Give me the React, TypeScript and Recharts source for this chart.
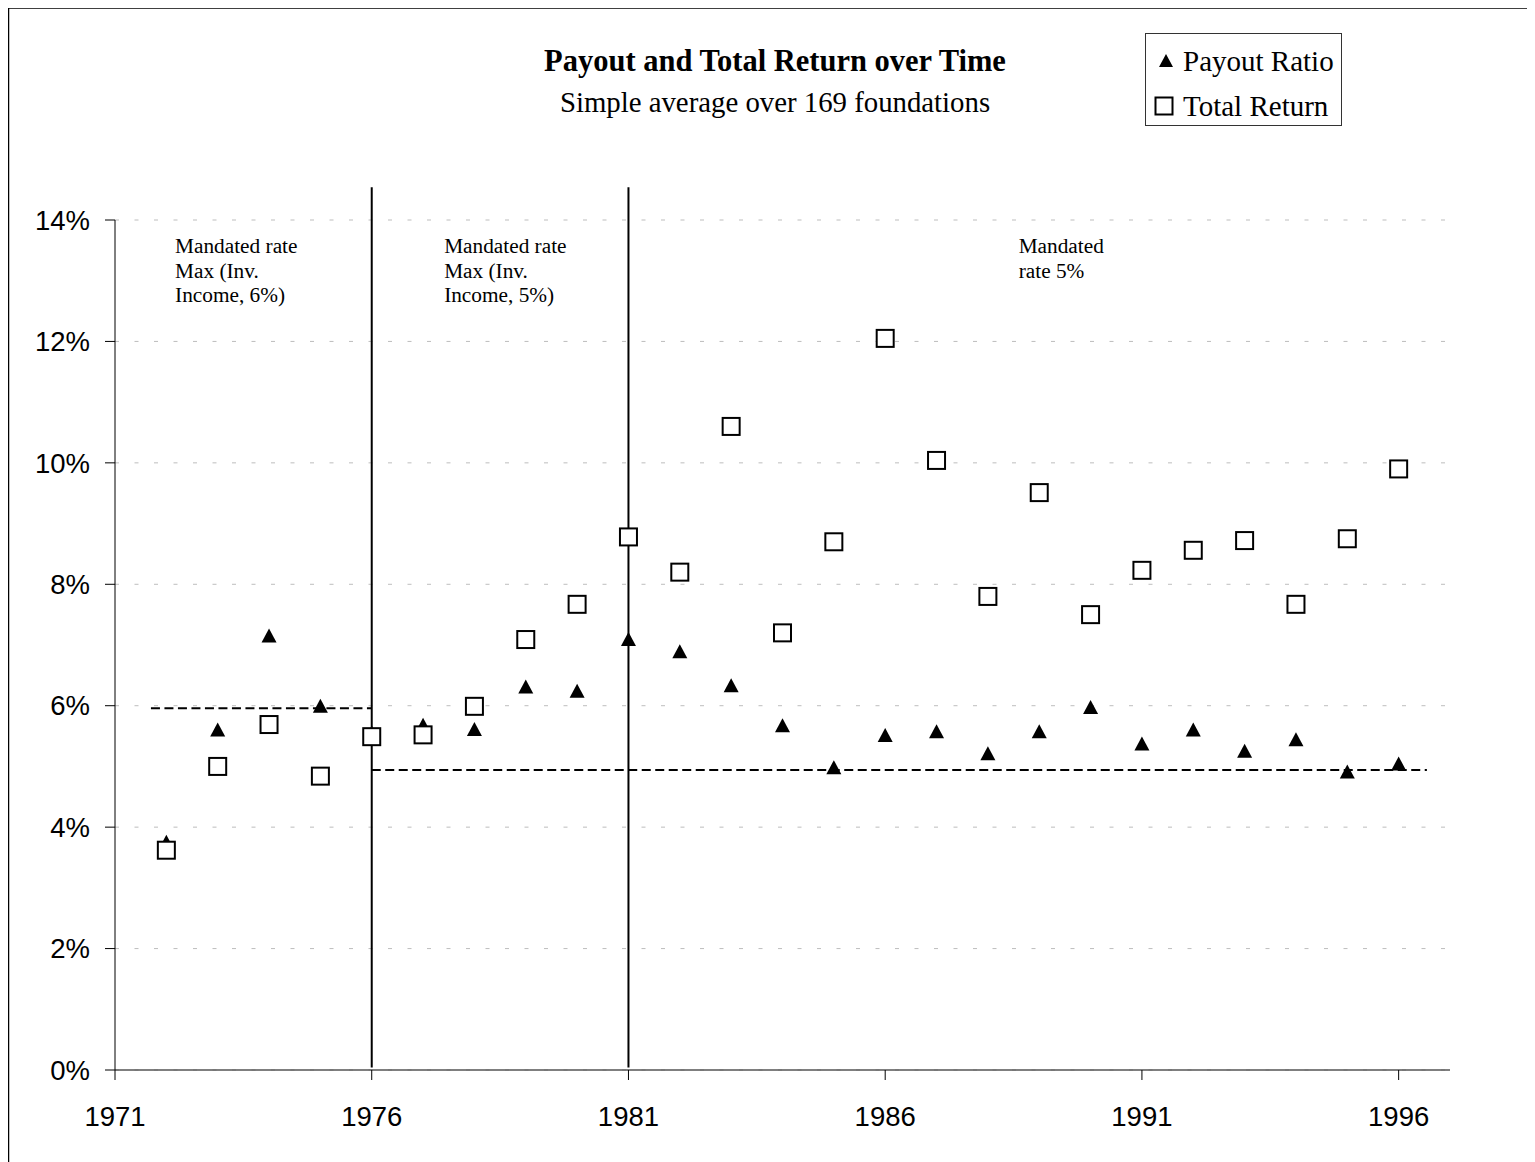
import React from 'react';
import {
  ScatterChart,
  Scatter,
  XAxis,
  YAxis,
  CartesianGrid,
  ReferenceLine,
  ReferenceDot,
  Legend,
} from 'recharts';

// ---- data ----
const years = [
  1972, 1973, 1974, 1975, 1976, 1977, 1978, 1979, 1980, 1981, 1982, 1983, 1984,
  1985, 1986, 1987, 1988, 1989, 1990, 1991, 1992, 1993, 1994, 1995, 1996,
];
const payoutRatio = [
  3.75, 5.6, 7.15, 5.99, 5.55, 5.68, 5.61, 6.31, 6.24, 7.09, 6.89, 6.33, 5.67,
  4.98, 5.51, 5.57, 5.21, 5.57, 5.97, 5.37, 5.6, 5.25, 5.44, 4.91, 5.04,
];
const totalReturn = [
  3.62, 5.0, 5.69, 4.84, 5.49, 5.52, 5.99, 7.09, 7.67, 8.78, 8.2, 10.6, 7.2,
  8.7, 12.05, 10.04, 7.8, 9.51, 7.5, 8.23, 8.56, 8.72, 7.67, 8.75, 9.9,
];
const xTicks = [1971, 1976, 1981, 1986, 1991, 1996];
const yTicks = [0, 2, 4, 6, 8, 10, 12, 14];
const regimeBoundaries = [1976, 1981];
const mandatedSegments = [
  { from: 1971.7, to: 1976, rate: 5.96 },
  { from: 1976, to: 1996.55, rate: 4.94 },
];
const annotations = [
  { x: 1972.17, y: 13.45, lines: ['Mandated rate', 'Max (Inv.', 'Income, 6%)'] },
  { x: 1977.41, y: 13.45, lines: ['Mandated rate', 'Max (Inv.', 'Income, 5%)'] },
  { x: 1988.6, y: 13.45, lines: ['Mandated', 'rate 5%'] },
];
const titleText = 'Payout and Total Return over Time';
const subtitleText = 'Simple average over 169 foundations';
const legendLabels = ['Payout Ratio', 'Total Return'];

const payoutData = years.map((x, i) => ({ x, y: payoutRatio[i] }));
const returnData = years.map((x, i) => ({ x, y: totalReturn[i] }));

const SERIF = "'Liberation Serif', 'Times New Roman', Times, serif";
const SANS = "'Liberation Sans', Arial, Helvetica, sans-serif";

const Triangle = (props: any) => {
  const { cx, cy } = props;
  if (cx == null || cy == null) return null;
  return (
    <polygon
      points={`${cx},${cy - 7.5} ${cx - 7.5},${cy + 6.5} ${cx + 7.5},${cy + 6.5}`}
      fill="#000"
    />
  );
};

const Square = (props: any) => {
  const { cx, cy } = props;
  if (cx == null || cy == null) return null;
  return (
    <rect
      x={cx - 8.5}
      y={cy - 8.5}
      width={17}
      height={17}
      fill="#fff"
      stroke="#000"
      strokeWidth={2}
    />
  );
};

const makeAnnotation = (lines: string[]) => (props: any) => {
  const { cx, cy } = props;
  return (
    <text x={cx} y={cy} fontFamily={SERIF} fontSize={21.3} fill="#000">
      {lines.map((l, i) => (
        <tspan key={i} x={cx} dy={i === 0 ? 0 : 24.5}>
          {l}
        </tspan>
      ))}
    </text>
  );
};

const LegendBox = () => (
  <svg width={197} height={93} style={{ display: 'block' }}>
    <rect x={0.5} y={0.5} width={196} height={92} fill="#fff" stroke="#333" strokeWidth={1} />
    <polygon points="21,21 14,34 28,34" fill="#000" />
    <text x={38} y={38} fontFamily={SERIF} fontSize={29} fill="#000">
      {legendLabels[0]}
    </text>
    <rect x={10.5} y={64.5} width={17} height={17} fill="#fff" stroke="#000" strokeWidth={2} />
    <text x={38} y={83} fontFamily={SERIF} fontSize={29} fill="#000">
      {legendLabels[1]}
    </text>
  </svg>
);

export default function App() {
  const W = 1527;
  const H = 1154;
  return (
    <div style={{ position: 'relative', width: W, height: H }}>
      <ScatterChart
        width={W}
        height={H}
        margin={{ top: 212, right: 85, bottom: 22, left: 7 }}
        style={{ position: 'absolute', left: 0, top: 0 }}
      >
        <CartesianGrid
          vertical={false}
          stroke="#bdbdbd"
          strokeDasharray="4 15.5"
          horizontalValues={yTicks}
        />
        <XAxis
          type="number"
          dataKey="x"
          domain={[1971, 1997]}
          ticks={xTicks}
          interval={0}
          allowDataOverflow
          height={70}
          tickSize={10}
          tickMargin={26}
          axisLine={{ stroke: '#555', strokeWidth: 1.5 }}
          tickLine={{ stroke: '#000', strokeWidth: 1 }}
          tick={{ fill: '#000', fontSize: 27.5, fontFamily: SANS }}
        />
        <YAxis
          type="number"
          dataKey="y"
          domain={[0, 14]}
          ticks={yTicks}
          interval={0}
          allowDataOverflow
          width={100}
          tickSize={10}
          tickMargin={15}
          tickFormatter={(v: number) => `${v}%`}
          axisLine={{ stroke: '#000', strokeWidth: 1 }}
          tickLine={{ stroke: '#000', strokeWidth: 1 }}
          tick={{ fill: '#000', fontSize: 27.5, fontFamily: SANS }}
        />
        {regimeBoundaries.map((b) => (
          <ReferenceLine
            key={`v${b}`}
            segment={[
              { x: b, y: 0.04 },
              { x: b, y: 14.54 },
            ]}
            ifOverflow="visible"
            stroke="#000"
            strokeWidth={2}
          />
        ))}
        {mandatedSegments.map((s, i) => (
          <ReferenceLine
            key={`m${i}`}
            segment={[
              { x: s.from, y: s.rate },
              { x: s.to, y: s.rate },
            ]}
            ifOverflow="visible"
            stroke="#000"
            strokeWidth={2}
            strokeDasharray="9 4.5"
          />
        ))}
        {annotations.map((a, i) => (
          <ReferenceDot
            key={`a${i}`}
            x={a.x}
            y={a.y}
            r={0}
            ifOverflow="visible"
            shape={makeAnnotation(a.lines)}
          />
        ))}
        <Scatter
          name={legendLabels[0]}
          data={payoutData}
          dataKey="y"
          shape={Triangle}
          isAnimationActive={false}
        />
        <Scatter
          name={legendLabels[1]}
          data={returnData}
          dataKey="y"
          shape={Square}
          isAnimationActive={false}
        />
        <Legend
          layout="vertical"
          align="center"
          verticalAlign="middle"
          content={() => <LegendBox />}
          wrapperStyle={{
            position: 'absolute',
            left: 1137,
            top: 25,
            right: 'auto',
            bottom: 'auto',
            width: 197,
            height: 93,
            margin: 0,
          }}
        />
      </ScatterChart>
      <svg
        width={W}
        height={H}
        style={{ position: 'absolute', left: 0, top: 0, pointerEvents: 'none' }}
      >
        <line x1={0.5} y1={0} x2={0.5} y2={H} stroke="#000" strokeWidth={1.5} />
        <line x1={0} y1={0} x2={W} y2={0} stroke="#000" strokeWidth={1.5} />
        <text
          x={767}
          y={63}
          textAnchor="middle"
          fontFamily={SERIF}
          fontWeight="bold"
          fontSize={30.5}
          fill="#000"
        >
          {titleText}
        </text>
        <text
          x={767}
          y={104}
          textAnchor="middle"
          fontFamily={SERIF}
          fontSize={28.8}
          fill="#000"
        >
          {subtitleText}
        </text>
      </svg>
    </div>
  );
}
